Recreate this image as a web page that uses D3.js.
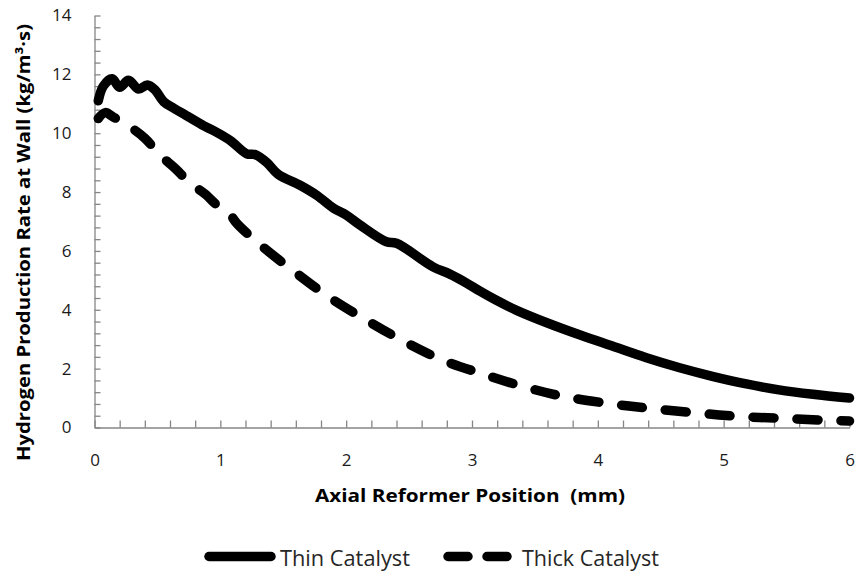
<!DOCTYPE html>
<html>
<head>
<meta charset="utf-8">
<script src="https://cdn.jsdelivr.net/npm/d3@7"></script>
<style>
  body { margin: 0; background: #fff; }
  svg { display: block; font-family: "Open Sans", Lato, sans-serif; }
</style>
</head>
<body>
<svg id="chart"></svg>
<script>
  // Data
  var xThin = [0.03, 0.07, 0.14, 0.2, 0.27, 0.35, 0.42, 0.48, 0.55, 0.63, 0.73, 0.87, 0.95, 1.08, 1.21, 1.28, 1.37, 1.46, 1.63, 1.77, 1.9, 2.0, 2.11, 2.32, 2.4, 2.69, 2.82, 2.96, 3.06, 3.19, 3.35, 3.6, 3.86, 4.12, 4.38, 4.65, 4.91, 5.18, 5.44, 5.71, 6.0]
  var thinCatalyst = [11.1, 11.6, 11.85, 11.56, 11.8, 11.5, 11.64, 11.48, 11.07, 10.85, 10.6, 10.25, 10.08, 9.75, 9.3, 9.27, 9.0, 8.6, 8.24, 7.88, 7.45, 7.22, 6.88, 6.31, 6.26, 5.46, 5.22, 4.9, 4.64, 4.33, 3.99, 3.55, 3.14, 2.76, 2.38, 2.03, 1.74, 1.48, 1.28, 1.13, 1.0]

  var xThick = [0.03, 0.085, 0.15, 0.26, 0.4, 0.52, 0.64, 0.76, 0.88, 1.0, 1.07, 1.13, 1.32, 1.59, 1.86, 2.16, 2.44, 2.76, 3.07, 3.4, 3.72, 4.08, 4.41, 4.77, 5.11, 5.46, 5.8, 6.0]
  var thickCatalyst = [10.5, 10.7, 10.55, 10.28, 9.83, 9.26, 8.81, 8.3, 7.93, 7.45, 7.28, 6.94, 6.2, 5.29, 4.44, 3.65, 2.97, 2.3, 1.84, 1.4, 1.06, 0.82, 0.65, 0.5, 0.38, 0.31, 0.25, 0.22]

  var seriesNames = ['Thin Catalyst', 'Thick Catalyst']
  var xTickLabels = [0, 1, 2, 3, 4, 5, 6]
  var yTickLabels = [0, 2, 4, 6, 8, 10, 12, 14]

  var WIDTH = 859
  var HEIGHT = 575
  var AXIS_COLOR = '#868686'
  var LINE_WIDTH = 9.5
  var DASH = '21,23'

  var svg = d3.select('#chart')
    .attr('width', WIDTH)
    .attr('height', HEIGHT)

  var x = d3.scaleLinear().domain([0, 6]).range([94.5, 849.5])
  var y = d3.scaleLinear().domain([0, 14]).range([427.5, 15.5])

  // minor ticks every 0.2 on x, every 0.4 on y
  var xTicks = d3.range(0, 31).map(function (i) { return i * 0.2 })
  var yTicks = d3.range(0, 36).map(function (i) { return i * 0.4 })

  function isLabel (list) {
    return function (v) {
      return list.some(function (t) { return Math.abs(t - v) < 1e-6 })
    }
  }
  var isX = isLabel(xTickLabels)
  var isY = isLabel(yTickLabels)

  svg.append('g')
    .attr('transform', 'translate(0,' + y(0) + ')')
    .call(d3.axisBottom(x)
      .tickValues(xTicks)
      .tickSizeInner(-7)
      .tickSizeOuter(0)
      .tickPadding(26)
      .tickFormat(function (d) { return isX(d) ? Math.round(d) : '' }))

  svg.append('g')
    .attr('transform', 'translate(' + x(0) + ',0)')
    .call(d3.axisLeft(y)
      .tickValues(yTicks)
      .tickSizeInner(-6)
      .tickSizeOuter(0)
      .tickPadding(23)
      .tickFormat(function (d) { return isY(d) ? Math.round(d) : '' }))

  svg.selectAll('.domain, .tick line')
    .attr('stroke', AXIS_COLOR)
    .attr('stroke-width', 1.3)
  svg.selectAll('.tick text')
    .attr('fill', '#1a1a1a')
    .style('font-size', '17px')
    .style('font-family', '"Open Sans", Lato, sans-serif')

  // Axis titles
  svg.append('text')
    .attr('x', 315)
    .attr('y', 501.5)
    .attr('textLength', 310)
    .attr('lengthAdjust', 'spacingAndGlyphs')
    .style('font-size', '18px')
    .style('font-weight', 'bold')
    .style('white-space', 'pre')
    .text('Axial Reformer Position  (mm)')

  svg.append('text')
    .attr('transform', 'translate(30,461) rotate(-90)')
    .attr('textLength', 437)
    .attr('lengthAdjust', 'spacingAndGlyphs')
    .style('font-size', '18px')
    .style('font-weight', 'bold')
    .text('Hydrogen Production Rate at Wall (kg/m³·s)')

  // Lines
  var line = d3.line()
    .x(function (d) { return x(d[0]) })
    .y(function (d) { return y(d[1]) })
    .curve(d3.curveCatmullRom.alpha(0.5))

  var thinData = d3.zip(xThin, thinCatalyst)
  var thickData = d3.zip(xThick, thickCatalyst)

  svg.append('path')
    .datum(thinData)
    .attr('d', line)
    .attr('fill', 'none')
    .attr('stroke', '#000')
    .attr('stroke-width', LINE_WIDTH)
    .attr('stroke-linecap', 'round')
    .attr('stroke-linejoin', 'round')

  svg.append('path')
    .datum(thickData)
    .attr('d', line)
    .attr('fill', 'none')
    .attr('stroke', '#000')
    .attr('stroke-width', LINE_WIDTH)
    .attr('stroke-linecap', 'round')
    .attr('stroke-linejoin', 'round')
    .attr('stroke-dasharray', DASH)

  // Legend
  var legend = svg.append('g').classed('legend', true)
  var items = [
    { name: seriesNames[0], x1: 209, x2: 271, text: 280, len: 130, dash: null },
    { name: seriesNames[1], x1: 448, x2: 508, text: 522, len: 137, dash: '20,19' }
  ]
  items.forEach(function (d) {
    legend.append('line')
      .attr('x1', d.x1).attr('x2', d.x2)
      .attr('y1', 556.5).attr('y2', 556.5)
      .attr('stroke', '#000')
      .attr('stroke-width', LINE_WIDTH)
      .attr('stroke-linecap', 'round')
      .attr('stroke-dasharray', d.dash)
    legend.append('text')
      .attr('x', d.text)
      .attr('y', 565.5)
      .attr('textLength', d.len)
      .attr('lengthAdjust', 'spacingAndGlyphs')
      .attr('fill', '#262626')
      .style('font-size', '21px')
      .text(d.name)
  })
</script>
</body>
</html>
